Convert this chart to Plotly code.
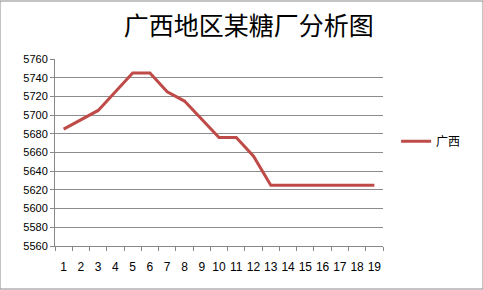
import plotly.graph_objects as go

categories = [str(i) for i in range(1, 20)]
values = [5685, 5695, 5705, 5725, 5745, 5745, 5725, 5715, 5695, 5676,
          5676, 5656, 5625, 5625, 5625, 5625, 5625, 5625, 5625]
y_ticks = list(range(5560, 5761, 20))

fig = go.Figure()
fig.add_trace(go.Scatter(
    x=categories, y=values, mode="lines", name="广西",
    line=dict(color="#BE4B48", width=3),
))

fig.update_layout(
    width=483, height=290,
    margin=dict(l=55, r=100, t=59, b=44),
    paper_bgcolor="white", plot_bgcolor="white",
    title=dict(text="广西地区某糖厂分析图", x=0.515, xanchor="center", y=0.91, yanchor="middle",
               font=dict(family="Noto Sans CJK SC", size=25, color="#000000")),
    font=dict(family="Liberation Sans, DejaVu Sans", size=11, color="#000000"),
    showlegend=True,
    legend=dict(x=1.04, y=0.56, xanchor="left", yanchor="middle",
                font=dict(family="Noto Sans CJK SC", size=12, color="#000000"),
                bgcolor="rgba(0,0,0,0)"),
    xaxis=dict(type="category", tickson="boundaries", ticks="outside", ticklen=4,
               range=[-0.5, 18.5], tickangle=0,
               tickcolor="#888888", showline=True, linecolor="#888888", linewidth=1,
               showgrid=False, tickfont=dict(size=12), ticklabelstandoff=10),
    yaxis=dict(range=[5560, 5760], tickvals=y_ticks, ticks="outside", ticklen=4,
               tickcolor="#888888", showline=True, linecolor="#888888", linewidth=1,
               showgrid=True, gridcolor="#8c8c8c", gridwidth=1, zeroline=False,
               tickfont=dict(size=11)),
)
fig.add_shape(type="rect", xref="paper", yref="paper",
              x0=-55/328, x1=1+100/328, y0=-44/187 + 1/187, y1=1+59/187 - 1/187,
              line=dict(color="#888888", width=1))

fig.write_html("out.html")
